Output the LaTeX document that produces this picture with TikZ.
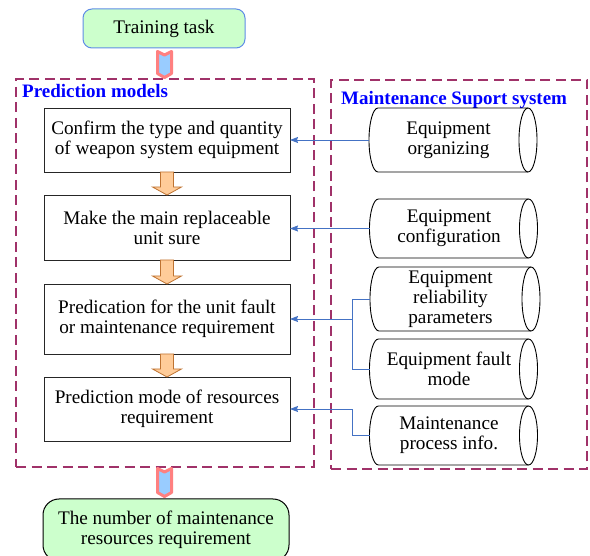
\documentclass[tikz,border=0pt]{standalone}
\usepackage{fontspec}
\setmainfont{Liberation Serif}
\usetikzlibrary{calc,arrows.meta}
\definecolor{dashc}{RGB}{160,50,105}
\definecolor{lblblue}{RGB}{0,0,255}
\definecolor{gfill}{RGB}{204,255,204}
\definecolor{topborder}{RGB}{95,140,230}
\definecolor{chevfill}{RGB}{153,204,255}
\definecolor{chevdraw}{RGB}{255,128,128}
\definecolor{ofill}{RGB}{255,204,153}
\definecolor{odraw}{RGB}{190,115,50}
\definecolor{connc}{RGB}{68,114,196}
\newcommand\cylout[2]{%
  \draw[cylline] ($(#1.north west)+(9,0)$) -- (#1.north east)
     arc[start angle=90,end angle=-90,x radius=9pt,y radius=#2pt]
     -- ($(#1.south west)+(9,0)$)
     arc[start angle=270,end angle=90,x radius=9pt,y radius=#2pt] -- cycle;
  \draw[cylline] (#1.north east) arc[start angle=90,end angle=270,x radius=9pt,y radius=#2pt];}
\newcommand\chevarrow[2]{%
  \draw[chev] ($(#1)+(-7,0)$) -- ($(#1)+(0,3.5)$) -- ($(#1)+(7,0)$)
     -- ($(#2)+(7,-4)$) -- (#2) -- ($(#2)+(-7,-4)$) -- cycle;}
\newcommand\blockarrow[2]{%
  \draw[oarrow] ($(#1.south)+(-6.5,0)$) -- ($(#1.south)+(6.5,0)$)
     -- ($(#2.north)+(6.5,-8)$) -- ($(#2.north)+(14.5,-8)$) -- (#2.north)
     -- ($(#2.north)+(-14.5,-8)$) -- ($(#2.north)+(-6.5,-8)$) -- cycle;}
\tikzset{
  txt/.style={font=\fontsize{19.2}{20}\selectfont, align=center, inner sep=0pt, outer sep=0pt},
  procbox/.style={txt, draw=black!85, line width=0.9pt, minimum width=246pt},
  cylnode/.style={txt, minimum width=159pt},
  cylline/.style={draw=black, line width=0.9pt},
  dbox/.style={draw=dashc, line width=2.2pt, dash pattern=on 10pt off 5.5pt, inner sep=0pt, outer sep=0pt},
  lbl/.style={font=\fontsize{19}{20}\selectfont\bfseries, text=lblblue, inner sep=0pt},
  termnode/.style={txt, fill=gfill, line width=1pt},
  chev/.style={fill=chevfill, draw=chevdraw, line width=3pt, line join=round},
  oarrow/.style={fill=ofill, draw=odraw, line width=0.8pt, line join=miter},
  conn/.style={draw=connc, line width=0.9pt, -{Stealth[length=8pt,width=6pt,inset=1pt]}},
  connl/.style={draw=connc, line width=0.9pt}
}
\begin{document}
\begin{tikzpicture}[x=1pt,y=-1pt]
\useasboundingbox (0,0) rectangle (590,556);
% dashed frames
\node[dbox, minimum width=298pt, minimum height=388pt] (pm) at (165,273) {};
\node[dbox, minimum width=256pt, minimum height=389pt] (ms) at (459,274.5) {};
\node[lbl, anchor=base west] (pmlabel) at (22,98) {Prediction models};
\node[lbl, anchor=base west] (mslabel) at (341,105) {Maintenance Suport system};
% terminals
\node[termnode, draw=topborder, rounded corners=9pt, minimum width=162pt, minimum height=39pt] (train) at (164,28.5) {Training task};
\node[termnode, draw=black, rounded corners=16pt, minimum width=246pt, minimum height=62pt] (res) at (166,530) {The number of maintenance\\resources requirement};
% process boxes
\node[procbox, minimum height=64pt] (b1) at (167,140) {Confirm the type and quantity\\of weapon system equipment};
\node[procbox, minimum height=65pt] (b2) at (167,227.5) {Make the main replaceable\\unit sure};
\node[procbox, minimum height=70pt] (b3) at (167,319) {Predication for the unit fault\\or maintenance requirement};
\node[procbox, minimum height=64pt] (b4) at (167,409) {Prediction mode of resources\\requirement};
% cylinders
\node[cylnode, minimum height=64pt] (c1) at (448.5,140) {Equipment\\organizing};
\node[cylnode, minimum height=59pt] (c2) at (449,228.5) {Equipment\\configuration};
\node[cylnode, minimum height=64pt, minimum width=161pt] (c3) at (450.5,299) {Equipment\\reliability\\parameters};
\node[cylnode, minimum height=60pt] (c4) at (449,369) {Equipment fault\\mode};
\node[cylnode, minimum height=59pt] (c5) at (449,435.5) {Maintenance\\process info.};
\cylout{c1}{32}
\cylout{c2}{29.5}
\cylout{c3}{32}
\cylout{c4}{30}
\cylout{c5}{29.5}
% block arrows
\blockarrow{b1}{b2}
\blockarrow{b2}{b3}
\blockarrow{b3}{b4}
\coordinate (ch1a) at ($(train.south)+(0.5,3.5)$);
\coordinate (ch1b) at ($(ch1a |- pm.north)+(0,-1.5)$);
\chevarrow{ch1a}{ch1b}
\coordinate (ch2a) at ($(pm.south)+(-0.5,1.5)$);
\coordinate (ch2b) at ($(ch2a |- res.north)+(0,-2.5)$);
\chevarrow{ch2a}{ch2b}
% connectors
\draw[conn] (c1.west) -- (b1.east);
\draw[conn] (c2.west) -- (c2.west -| b2.east);
\draw[connl] (c4.west) -- ++(-17,0) coordinate (j1) |- (c3.west);
\draw[conn] (j1 |- b3.east) -- (b3.east);
\draw[conn] (c5.west) -- ++(-17,0) |- (b4.east);
\end{tikzpicture}
\end{document}
